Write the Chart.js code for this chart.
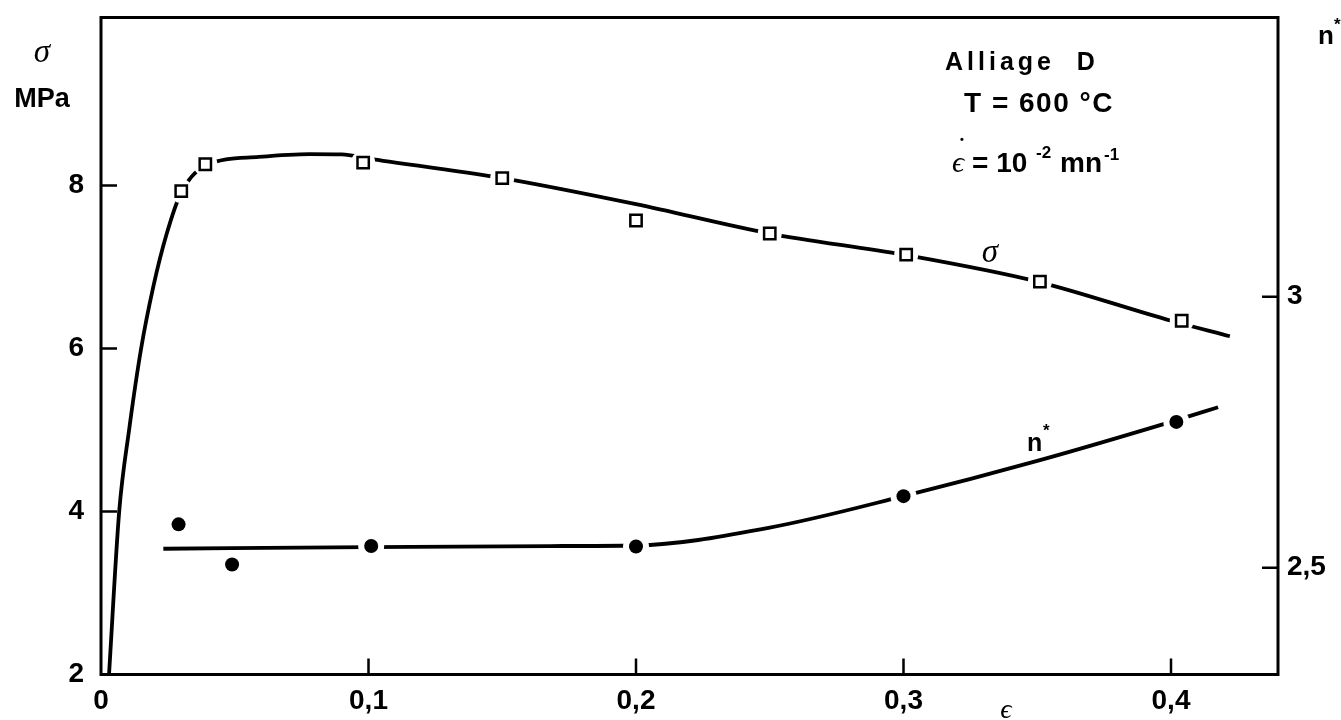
<!DOCTYPE html>
<html>
<head>
  <meta charset="utf-8">
  <title>Alliage D - σ et n* en fonction de ε</title>
  <script src="https://cdn.jsdelivr.net/npm/chart.js"></script>
  <style>
    html, body {
      margin: 0;
      padding: 0;
      background: #fff;
    }
    .wrap {
      width: 1341px;
      height: 720px;
      position: relative;
    }
  </style>
</head>
<body>

<div class="wrap"><canvas id="chart"></canvas></div>

<script>
  // points mesurés : contrainte (carrés)
  const epsSigma = [0.030, 0.039, 0.098, 0.150, 0.200, 0.250, 0.301, 0.351, 0.404];
  const sigma    = [7.93, 8.26, 8.28, 8.09, 7.57, 7.41, 7.15, 6.82, 6.34];

  // points mesurés : n* (ronds)
  const epsN  = [0.029, 0.049, 0.101, 0.200, 0.300, 0.402];
  const nStar = [2.580, 2.506, 2.540, 2.539, 2.632, 2.769];

  // courbes tracées sur la figure
  const epsSigmaCurve = [0.0030, 0.0068, 0.0105, 0.0150, 0.0195, 0.0245, 0.0298, 0.0389, 0.059, 0.078, 0.090, 0.100, 0.150, 0.200, 0.250, 0.300, 0.350, 0.400, 0.422];
  const sigmaCurve    = [2.00, 4.00, 5.00, 6.00, 6.75, 7.40, 7.90, 8.24, 8.35, 8.385, 8.38, 8.33, 8.09, 7.77, 7.41, 7.15, 6.82, 6.34, 6.15];
  const epsNCurve = [0.0233, 0.100, 0.168, 0.200, 0.250, 0.300, 0.350, 0.400, 0.4176];
  const nCurve    = [2.535, 2.538, 2.540, 2.541, 2.574, 2.632, 2.697, 2.769, 2.796];

  // graduations
  const xTicks     = [0, 0.1, 0.2, 0.3, 0.4];
  const sigmaTicks = [2, 4, 6, 8];
  const nTicks     = [2.5, 3];

  const FONT = "'Liberation Sans', Arial, sans-serif";
  const SERIF = "'Liberation Serif', 'DejaVu Serif', serif";

  const pts = (xs, ys) => xs.map((x, i) => ({ x: x, y: ys[i] }));
  const comma = v => String(+Number(v).toFixed(2)).replace('.', ',');

  // cadre, graduations vers l'intérieur et textes
  const decor = {
    id: 'decor',
    afterDraw(chart) {
      const ctx = chart.ctx;
      const a = chart.chartArea;
      const sx = chart.scales.x, sy = chart.scales.y, sn = chart.scales.y1;
      ctx.save();
      ctx.strokeStyle = '#000';
      ctx.lineWidth = 3;
      ctx.strokeRect(a.left, a.top, a.right - a.left, a.bottom - a.top);

      ctx.lineWidth = 2.5;
      ctx.beginPath();
      sigmaTicks.filter(v => v > 2).forEach(v => {
        const y = sy.getPixelForValue(v);
        ctx.moveTo(a.left, y); ctx.lineTo(a.left + 16, y);
      });
      nTicks.forEach(v => {
        const y = sn.getPixelForValue(v);
        ctx.moveTo(a.right - 16, y); ctx.lineTo(a.right, y);
      });
      xTicks.filter(v => v > 0).forEach(v => {
        const x = sx.getPixelForValue(v);
        ctx.moveTo(x, a.bottom); ctx.lineTo(x, a.bottom - 16);
      });
      ctx.stroke();

      ctx.fillStyle = '#000';
      ctx.textAlign = 'center';
      ctx.textBaseline = 'alphabetic';

      // titre axe gauche
      ctx.font = 'italic 33px ' + SERIF;
      ctx.fillText('σ', 42, 62);
      ctx.font = 'bold 27px ' + FONT;
      ctx.fillText('MPa', 42, 107);

      // titre axe droit
      ctx.textAlign = 'left';
      ctx.font = 'bold 26px ' + FONT;
      ctx.fillText('n', 1318, 44);
      ctx.font = 'bold 17px ' + FONT;
      ctx.fillText('*', 1334, 30);

      // titre axe x
      ctx.textAlign = 'center';
      ctx.font = 'italic 28px ' + SERIF;
      ctx.fillText('ϵ', 1006, 718);

      // étiquettes des courbes
      ctx.font = 'italic 33px ' + SERIF;
      ctx.fillText('σ', 990, 262);
      ctx.textAlign = 'left';
      ctx.font = 'bold 25px ' + FONT;
      ctx.fillText('n', 1027, 451);
      ctx.font = 'bold 17px ' + FONT;
      ctx.fillText('*', 1043, 436);

      // conditions d'essai
      ctx.font = 'bold 25px ' + FONT;
      ctx.letterSpacing = '4px';
      ctx.fillText('Alliage  D', 945, 70);
      ctx.letterSpacing = '1.5px';
      ctx.font = 'bold 28px ' + FONT;
      ctx.fillText('T = 600 °C', 964, 112);
      ctx.letterSpacing = '0px';
      ctx.font = 'italic 30px ' + SERIF;
      ctx.fillText('ϵ', 952, 172);
      ctx.fillText('˙', 955, 158);
      ctx.font = 'bold 28px ' + FONT;
      ctx.fillText('= 10', 972, 172);
      ctx.font = 'bold 17px ' + FONT;
      ctx.fillText('-2', 1036, 158);
      ctx.font = 'bold 28px ' + FONT;
      ctx.fillText('mn', 1060, 172);
      ctx.font = 'bold 17px ' + FONT;
      ctx.fillText('-1', 1104, 160);
      ctx.restore();
    }
  };

  const tickFont = { family: FONT, size: 28, weight: 'bold' };

  const noPadY = s => { s.paddingTop = 0; s.paddingBottom = 0; };

  new Chart(document.getElementById('chart'), {
    type: 'scatter',
    data: {
      datasets: [
        {
          label: 'σ',
          data: pts(epsSigma, sigma),
          yAxisID: 'y',
          pointStyle: 'rect',
          pointRadius: 8,
          pointBorderWidth: 2.5,
          pointBorderColor: '#000',
          pointBackgroundColor: '#fff',
          order: 1
        },
        {
          label: 'n*',
          data: pts(epsN, nStar),
          yAxisID: 'y1',
          pointStyle: 'circle',
          pointRadius: 7,
          pointBorderWidth: 0,
          pointBackgroundColor: '#000',
          order: 1
        },
        {
          label: 'halo σ',
          data: pts(epsSigma, sigma),
          yAxisID: 'y',
          pointRadius: 12,
          pointBorderWidth: 0,
          pointBackgroundColor: '#fff',
          order: 2
        },
        {
          label: 'halo n*',
          data: pts(epsN, nStar),
          yAxisID: 'y1',
          pointRadius: 13,
          pointBorderWidth: 0,
          pointBackgroundColor: '#fff',
          order: 2
        },
        {
          label: 'courbe σ',
          data: pts(epsSigmaCurve, sigmaCurve),
          yAxisID: 'y',
          showLine: true,
          pointRadius: 0,
          borderColor: '#000',
          borderWidth: 3.8,
          cubicInterpolationMode: 'monotone',
          order: 3
        },
        {
          label: 'courbe n*',
          data: pts(epsNCurve, nCurve),
          yAxisID: 'y1',
          showLine: true,
          pointRadius: 0,
          borderColor: '#000',
          borderWidth: 3.8,
          cubicInterpolationMode: 'monotone',
          order: 3
        }
      ]
    },
    options: {
      responsive: true,
      maintainAspectRatio: false,
      animation: false,
      layout: { padding: { top: 17.5, left: 0, right: 0, bottom: 0 } },
      plugins: {
        legend: { display: false },
        tooltip: { enabled: false }
      },
      scales: {
        x: {
          type: 'linear',
          min: 0,
          max: 0.44,
          grid: { display: false, drawTicks: false },
          border: { display: false },
          afterBuildTicks: s => { s.ticks = xTicks.map(v => ({ value: v })); },
          afterFit: s => { s.height = 45.5; s.paddingLeft = 0; s.paddingRight = 0; },
          ticks: {
            font: tickFont,
            color: '#000',
            padding: 10,
            maxRotation: 0,
            autoSkip: false,
            callback: v => comma(v)
          }
        },
        y: {
          position: 'left',
          min: 2,
          max: 10.06,
          grid: { display: false, drawTicks: false },
          border: { display: false },
          afterBuildTicks: s => { s.ticks = sigmaTicks.map(v => ({ value: v })); },
          afterFit: s => { s.width = 101; noPadY(s); },
          ticks: {
            font: tickFont,
            color: '#000',
            padding: 17,
            autoSkip: false,
            callback: v => comma(v)
          }
        },
        y1: {
          position: 'right',
          min: 2.303,
          max: 3.515,
          grid: { display: false, drawTicks: false },
          border: { display: false },
          afterBuildTicks: s => { s.ticks = nTicks.map(v => ({ value: v })); },
          afterFit: s => { s.width = 63; noPadY(s); },
          ticks: {
            font: tickFont,
            color: '#000',
            padding: 9,
            autoSkip: false,
            callback: v => comma(v)
          }
        }
      }
    },
    plugins: [decor]
  });
</script>

</body>
</html>
